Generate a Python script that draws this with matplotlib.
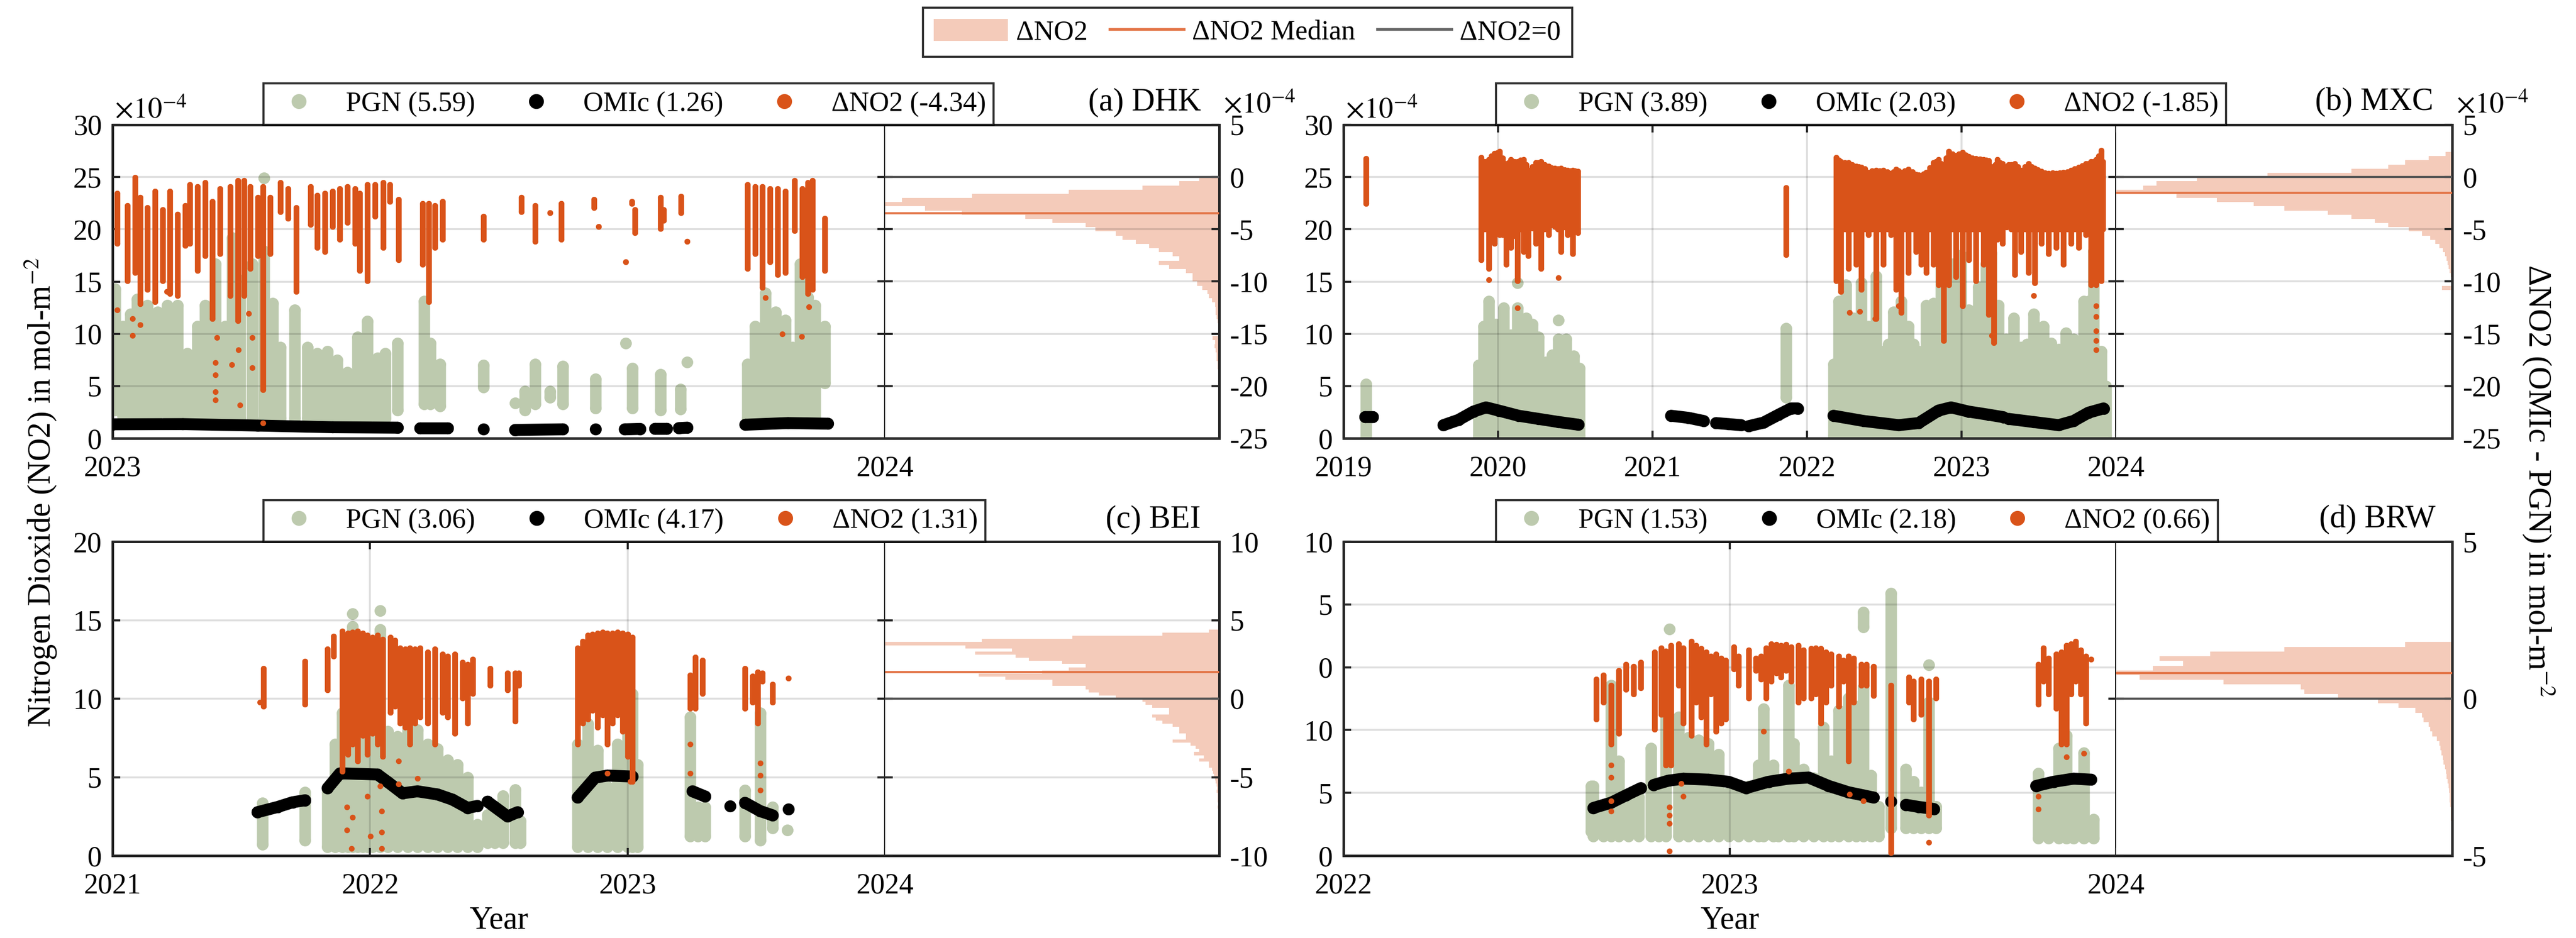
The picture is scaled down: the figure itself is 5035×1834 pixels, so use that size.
# -*- coding: utf-8 -*-
'''
PGN vs OMIc NO2 columns at four sites, with a histogram of the difference
'''
import numpy as np
import matplotlib
matplotlib.use('Agg')
import matplotlib.pyplot as plt
from matplotlib.lines import Line2D
from matplotlib.patches import Patch

plt.rcParams['font.family'] = ['Liberation Serif', 'DejaVu Serif']
plt.rcParams['mathtext.fontset'] = 'stix'
plt.rcParams['axes.unicode_minus'] = False

# ---------------------------------------------------------------- data
# time in decimal years, columns in 1e-4 mol m-2
# stripes: (time, low, high) -> a run of daily points at that time

# (a) DHK
DHK_MEANS = (5.59, 1.26, -4.34)
DHK_MEDIAN = -3.47
DHK_PGN = [
    (2023.003, 2.7, 14.3), (2023.013, 2.1, 10.7), (2023.023, 1.9, 11.9), (2023.032, 1.9, 13.3),
    (2023.045, 1.9, 12.7), (2023.058, 2.3, 12.1), (2023.071, 2.3, 12.7), (2023.084, 1.9, 12.7),
    (2023.097, 2.1, 8.1), (2023.110, 2.1, 10.7), (2023.120, 1.9, 12.7), (2023.133, 1.9, 16.7),
    (2023.146, 1.9, 10.7), (2023.155, 1.9, 19.2), (2023.165, 1.9, 15.1), (2023.181, 1.9, 16.7),
    (2023.196, 1.9, 17.9), (2023.196, 24.9, 24.9), (2023.207, 1.9, 12.9), (2023.217, 1.9, 8.7),
    (2023.236, 1.9, 12.3), (2023.252, 1.9, 8.7), (2023.265, 1.9, 8.1), (2023.278, 1.9, 8.3),
    (2023.291, 1.9, 7.5), (2023.304, 1.9, 6.3), (2023.317, 1.9, 9.7), (2023.330, 1.9, 11.2),
    (2023.343, 1.9, 7.7), (2023.353, 1.9, 8.1), (2023.369, 2.7, 9.1), (2023.403, 3.3, 13.1),
    (2023.411, 3.3, 9.1), (2023.424, 3.1, 7.1), (2023.480, 4.9, 7.0), (2023.521, 3.4, 3.4),
    (2023.534, 2.7, 4.5), (2023.547, 3.3, 7.1), (2023.566, 3.9, 4.5), (2023.583, 3.3, 6.9),
    (2023.625, 2.9, 5.7), (2023.664, 9.1, 9.1), (2023.673, 2.9, 6.7), (2023.709, 2.7, 6.1),
    (2023.735, 2.8, 4.7), (2023.744, 7.3, 7.3), (2023.822, 1.9, 7.1), (2023.832, 1.9, 10.7),
    (2023.845, 1.9, 13.9), (2023.858, 1.9, 12.1), (2023.871, 1.9, 11.3), (2023.880, 1.9, 8.7),
    (2023.890, 1.9, 16.7), (2023.900, 1.9, 13.5), (2023.909, 1.9, 12.7), (2023.922, 5.3, 10.7),
]
DHK_OMI = [
    [(2023.000, 1.34), (2023.091, 1.36), (2023.188, 1.22), (2023.285, 1.06), (2023.369, 1.02)],
    [(2023.398, 1.00), (2023.434, 1.00)],
    [(2023.480, 0.90)],
    [(2023.521, 0.80), (2023.583, 0.86)],
    [(2023.625, 0.86)],
    [(2023.663, 0.86), (2023.683, 0.90)],
    [(2023.702, 0.92), (2023.717, 0.92)],
    [(2023.733, 0.98), (2023.744, 1.02)],
    [(2023.819, 1.30), (2023.874, 1.46), (2023.926, 1.40)],
]
DHK_DNO2 = [
    (2023.006, -6.34, -1.54), (2023.019, -9.94, -2.74), (2023.029, -9.14, -0.04), (2023.036, -12.14, -1.94),
    (2023.045, -10.74, -2.94), (2023.055, -11.94, -1.34), (2023.065, -9.94, -3.14), (2023.074, -11.14, -1.34),
    (2023.084, -11.34, -3.54), (2023.094, -6.54, -2.74), (2023.100, -6.34, -0.74), (2023.110, -8.94, -0.94),
    (2023.120, -7.54, -0.54), (2023.129, -13.54, -2.34), (2023.139, -7.34, -1.14), (2023.152, -11.34, -0.94),
    (2023.162, -13.74, -0.34), (2023.170, -11.34, -0.34), (2023.178, -8.74, -0.94), (2023.188, -7.54, -1.94),
    (2023.195, -20.34, -0.94), (2023.204, -7.34, -1.94), (2023.217, -3.34, -0.54), (2023.227, -3.94, -1.14),
    (2023.238, -10.94, -2.94), (2023.256, -4.54, -0.94), (2023.265, -6.74, -1.74), (2023.275, -7.14, -1.54),
    (2023.285, -4.74, -1.34), (2023.294, -5.94, -1.14), (2023.304, -4.34, -0.94), (2023.314, -6.34, -1.14),
    (2023.320, -8.94, -1.54), (2023.330, -9.94, -0.74), (2023.340, -3.74, -0.74), (2023.350, -6.74, -0.54),
    (2023.359, -2.34, -0.74), (2023.370, -7.94, -2.14), (2023.401, -8.34, -2.54), (2023.409, -11.94, -2.54),
    (2023.417, -6.74, -2.74), (2023.427, -5.94, -2.34), (2023.480, -5.94, -3.74), (2023.529, -3.34, -1.94),
    (2023.547, -6.14, -2.74), (2023.566, -3.44, -3.44), (2023.581, -5.94, -2.54), (2023.623, -2.94, -2.14),
    (2023.629, -4.74, -4.74), (2023.664, -8.14, -8.14), (2023.672, -2.54, -2.34), (2023.676, -5.34, -3.14),
    (2023.709, -4.94, -1.94), (2023.713, -4.14, -3.14), (2023.736, -3.44, -1.84), (2023.744, -6.14, -6.14),
    (2023.822, -8.74, -0.74), (2023.832, -7.34, -0.94), (2023.841, -10.54, -0.94), (2023.851, -8.14, -1.14),
    (2023.861, -9.34, -1.14), (2023.871, -9.14, -1.34), (2023.883, -5.14, -0.34), (2023.893, -9.54, -1.14),
    (2023.900, -11.14, -0.54), (2023.906, -10.74, -0.34), (2023.922, -8.94, -3.94),
]
DHK_DNO2_PTS = [
    (2023.026, -13.54), (2023.026, -15.14), (2023.036, -14.14), (2023.006, -12.74), (2023.133, -17.74),
    (2023.133, -18.94), (2023.133, -20.54), (2023.133, -21.34), (2023.135, -15.34), (2023.165, -21.84),
    (2023.163, -16.54), (2023.181, -15.34), (2023.181, -18.24), (2023.195, -23.54), (2023.154, -17.94),
    (2023.176, -13.04), (2023.867, -15.04), (2023.892, -15.24), (2023.901, -12.44), (2023.845, -11.54),
    (2023.070, -10.94),
]
# histogram of dNO2: bins of width HIST_W going down from HIST_TOP (relative counts)
DHK_HIST_TOP, DHK_HIST_W = 0.0, 0.4
DHK_HIST = [0.06, 0.12, 0.23, 0.45, 0.74, 0.95, 1.0, 0.88, 0.77, 0.58, 0.50, 0.40, 0.37, 0.31,
            0.29, 0.25, 0.21, 0.18, 0.14, 0.12, 0.18, 0.15, 0.10, 0.08, 0.08, 0.066, 0.05, 0.035,
            0.03, 0.022, 0.013, 0.011, 0.010, 0.007, 0.004, 0.002, 0.001, 0.0, 0.02, 0.012, 0.014,
            0.010, 0.007, 0.008, 0.005, 0.004]

# (b) MXC
MXC_MEANS = (3.89, 2.03, -1.85)
MXC_MEDIAN = -1.5
MXC_PGN = [
    (2019.146, 0.1, 5.2), (2019.874, 0.2, 7.0), (2019.906, 0.2, 10.7), (2019.939, 0.2, 13.1),
    (2019.987, 0.2, 10.9), (2020.036, 0.2, 12.5), (2020.084, 0.2, 9.9), (2020.126, 0.2, 12.5),
    (2020.126, 14.9, 14.9), (2020.181, 0.2, 11.5), (2020.223, 0.2, 10.9), (2020.262, 0.2, 9.7),
    (2020.311, 0.2, 7.3), (2020.350, 0.2, 8.0), (2020.392, 0.2, 9.5), (2020.392, 11.3, 11.3),
    (2020.440, 0.2, 9.5), (2020.489, 0.2, 7.9), (2020.528, 0.2, 6.7), (2021.864, 3.9, 10.5),
    (2022.171, 0.2, 7.1), (2022.204, 0.2, 13.1), (2022.252, 0.2, 14.7), (2022.301, 0.2, 11.5),
    (2022.350, 0.2, 14.9), (2022.398, 0.2, 10.7), (2022.447, 0.2, 15.5), (2022.495, 0.2, 8.3),
    (2022.528, 0.2, 9.0), (2022.560, 0.2, 12.1), (2022.608, 0.2, 13.1), (2022.657, 0.2, 10.7),
    (2022.690, 0.2, 9.0), (2022.722, 0.2, 8.3), (2022.770, 0.2, 12.7), (2022.819, 0.2, 12.9),
    (2022.867, 0.2, 16.7), (2022.900, 0.2, 17.1), (2022.948, 0.2, 16.7), (2022.997, 0.2, 17.5),
    (2023.045, 0.2, 12.3), (2023.078, 0.2, 11.0), (2023.110, 0.2, 14.5), (2023.159, 0.2, 16.7),
    (2023.191, 0.2, 17.7), (2023.239, 0.2, 12.7), (2023.288, 0.2, 9.5), (2023.337, 0.2, 11.5),
    (2023.385, 0.2, 8.7), (2023.425, 0.2, 9.0), (2023.466, 0.2, 11.9), (2023.500, 0.2, 9.5),
    (2023.531, 0.2, 10.7), (2023.579, 0.2, 9.1), (2023.628, 0.2, 8.5), (2023.676, 0.2, 10.1),
    (2023.725, 0.2, 9.5), (2023.758, 0.2, 9.0), (2023.790, 0.2, 13.1), (2023.822, 0.2, 13.1),
    (2023.854, 0.2, 17.9), (2023.903, 0.2, 8.3), (2023.935, 0.2, 5.0),
]
MXC_OMI = [
    [(2019.140, 2.06), (2019.190, 2.06)],
    [(2019.647, 1.26), (2019.744, 1.76), (2019.841, 2.56), (2019.922, 2.96), (2020.003, 2.66),
     (2020.133, 2.16), (2020.262, 1.86), (2020.392, 1.56), (2020.521, 1.30)],
    [(2021.120, 2.16), (2021.233, 1.96), (2021.330, 1.66)],
    [(2021.411, 1.46), (2021.492, 1.36), (2021.573, 1.26)],
    [(2021.621, 1.16), (2021.718, 1.50), (2021.816, 2.26), (2021.896, 2.86), (2021.939, 2.86)],
    [(2022.171, 2.16), (2022.366, 1.66), (2022.592, 1.26), (2022.722, 1.46), (2022.851, 2.66),
     (2022.932, 2.96), (2023.045, 2.56), (2023.175, 2.26), (2023.272, 2.02)],
    [(2023.304, 1.86), (2023.466, 1.56), (2023.628, 1.26), (2023.725, 1.66), (2023.822, 2.46),
     (2023.919, 2.86)],
]
MXC_DNO2 = [
    (2019.146, -2.54, 1.76), (2019.890, -7.94, 1.86), (2019.914, -5.0, 1.5), (2019.939, -8.74, 1.66),
    (2019.958, -5.2, 2.0), (2019.977, -6.34, 2.26), (2019.993, -4.6, 2.3), (2020.010, -5.54, 2.46),
    (2020.031, -5.5, 1.8), (2020.052, -8.34, 1.26), (2020.068, -5.0, 1.4), (2020.084, -6.74, 1.66),
    (2020.105, -5.6, 1.5), (2020.126, -9.94, 1.46), (2020.145, -5.0, 1.6), (2020.165, -7.14, 1.66),
    (2020.181, -5.3, 1.2), (2020.197, -7.54, 0.66), (2020.222, -4.9, 1.0), (2020.246, -6.34, 1.36),
    (2020.262, -5.1, 1.4), (2020.278, -8.74, 1.46), (2020.302, -5.0, 1.2), (2020.327, -5.54, 1.06),
    (2020.346, -4.6, 0.9), (2020.366, -4.74, 0.86), (2020.387, -5.0, 0.8), (2020.408, -7.14, 0.86),
    (2020.429, -4.8, 0.7), (2020.450, -5.54, 0.66), (2020.466, -5.0, 0.6), (2020.482, -7.34, 0.66),
    (2020.498, -4.6, 0.6), (2020.515, -5.34, 0.56), (2021.864, -7.44, -1.04),
    (2022.188, -9.94, 1.86), (2022.204, -5.0, 1.6), (2022.220, -10.94, 1.46), (2022.244, -5.0, 1.4),
    (2022.269, -8.74, 1.36), (2022.293, -5.0, 1.2), (2022.317, -8.34, 1.06), (2022.333, -5.0, 1.0),
    (2022.350, -10.74, 0.96), (2022.374, -5.0, 0.8), (2022.398, -5.54, 0.46), (2022.422, -5.0, 0.6),
    (2022.447, -13.54, 0.66), (2022.471, -5.0, 0.6), (2022.495, -8.34, 0.66), (2022.519, -5.0, 0.5),
    (2022.544, -5.54, 0.36), (2022.560, -5.0, 0.5), (2022.576, -10.74, 0.76), (2022.592, -5.0, 0.6),
    (2022.608, -12.94, 0.46), (2022.632, -5.0, 0.6), (2022.657, -9.14, 0.76), (2022.681, -5.0, 0.5),
    (2022.706, -7.14, 0.26), (2022.722, -5.0, 0.2), (2022.738, -8.34, 0.16), (2022.754, -5.0, 0.3),
    (2022.770, -9.14, 0.46), (2022.795, -5.0, 0.9), (2022.819, -8.34, 1.36), (2022.835, -5.0, 1.5),
    (2022.851, -10.34, 1.66), (2022.867, -5.0, 1.3), (2022.883, -15.64, 1.06), (2022.900, -5.0, 1.8),
    (2022.916, -10.34, 2.46), (2022.940, -5.0, 2.2), (2022.964, -9.54, 2.06), (2022.985, -5.0, 2.2),
    (2023.006, -12.34, 2.36), (2023.025, -5.0, 2.1), (2023.045, -7.94, 1.96), (2023.070, -5.0, 1.8),
    (2023.094, -9.94, 1.76), (2023.118, -5.0, 1.7), (2023.142, -8.34, 1.66), (2023.158, -5.0, 1.6),
    (2023.175, -13.14, 1.56), (2023.191, -5.0, 1.0), (2023.207, -15.84, 0.46), (2023.220, -5.0, 1.2),
    (2023.233, -5.94, 1.66), (2023.249, -5.0, 1.4), (2023.265, -6.34, 1.26), (2023.290, -4.8, 1.0),
    (2023.304, -4.5, 1.2), (2023.320, -5.0, 1.2), (2023.343, -9.34, 1.26), (2023.364, -5.0, 1.0),
    (2023.385, -7.14, 0.66), (2023.410, -5.0, 1.0), (2023.434, -9.14, 1.26), (2023.453, -5.0, 1.0),
    (2023.472, -10.14, 0.86), (2023.494, -5.0, 0.7), (2023.515, -6.34, 0.56), (2023.539, -5.0, 0.4),
    (2023.563, -7.34, 0.36), (2023.588, -5.0, 0.4), (2023.612, -6.74, 0.36), (2023.636, -5.0, 0.4),
    (2023.660, -8.34, 0.46), (2023.685, -5.0, 0.5), (2023.709, -6.34, 0.66), (2023.733, -5.0, 0.8),
    (2023.757, -6.74, 0.96), (2023.782, -5.0, 1.1), (2023.806, -5.54, 1.26), (2023.822, -5.0, 1.3),
    (2023.838, -10.34, 1.46), (2023.855, -5.0, 1.5), (2023.871, -10.34, 1.66), (2023.887, -5.0, 2.0),
    (2023.903, -9.94, 2.46), (2023.915, -5.0, 1.5),
]
MXC_DNO2_PTS = [
    (2023.871, -12.34), (2023.871, -13.34), (2023.871, -14.74), (2023.871, -15.64), (2023.871, -16.54),
    (2022.440, -13.54), (2022.275, -12.94), (2022.340, -12.84), (2023.466, -11.34), (2022.220, -10.94),
    (2020.126, -12.54), (2020.392, -9.64), (2019.939, -9.84), (2022.592, -12.34), (2023.197, -15.14),
    (2022.883, -14.74), (2023.903, 2.56),
]
MXC_HIST_TOP, MXC_HIST_W = 2.4, 0.4
MXC_HIST = [0.02, 0.07, 0.14, 0.19, 0.30, 0.55, 0.76, 0.88, 0.92, 1.0, 0.82, 0.70, 0.59, 0.50,
            0.37, 0.30, 0.23, 0.19, 0.13, 0.09, 0.065, 0.05, 0.038, 0.028, 0.021, 0.017, 0.014,
            0.011, 0.008, 0.005, 0.002, 0.0, 0.03]

# (c) BEI
BEI_MEANS = (3.06, 4.17, 1.31)
BEI_MEDIAN = 1.7
BEI_PGN = [
    (2021.583, 0.71, 3.37), (2021.748, 0.97, 4.04), (2021.835, 0.57, 4.04), (2021.864, 0.57, 7.1),
    (2021.893, 0.57, 9.1), (2021.913, 0.57, 11.1), (2021.932, 0.57, 14.6), (2021.932, 15.4, 15.4),
    (2021.951, 0.57, 9.1), (2021.971, 0.57, 11.1), (2021.990, 0.57, 10.0), (2022.010, 0.57, 8.4),
    (2022.039, 0.57, 14.4), (2022.039, 15.6, 15.6), (2022.068, 0.57, 7.9), (2022.107, 0.57, 7.6),
    (2022.146, 0.57, 8.8), (2022.184, 0.57, 8.0), (2022.223, 0.57, 7.1), (2022.262, 0.57, 6.8),
    (2022.301, 0.57, 6.1), (2022.340, 0.57, 5.8), (2022.379, 0.57, 5.0), (2022.417, 0.57, 2.0),
    (2022.456, 0.8, 2.6), (2022.485, 0.8, 3.1), (2022.515, 0.8, 3.8), (2022.563, 0.8, 4.2),
    (2022.583, 0.8, 2.2), (2022.806, 0.57, 7.1), (2022.845, 0.57, 8.4), (2022.883, 0.57, 6.7),
    (2022.922, 0.57, 4.4), (2022.961, 0.57, 7.1), (2023.000, 0.57, 10.0), (2023.019, 0.57, 10.3),
    (2023.039, 0.57, 5.8), (2023.243, 1.24, 8.84), (2023.272, 1.24, 3.1), (2023.301, 1.24, 3.1),
    (2023.456, 1.24, 4.17), (2023.515, 0.97, 9.1), (2023.563, 1.77, 3.1), (2023.621, 1.64, 1.64),
]
BEI_OMI = [
    [(2021.563, 2.77), (2021.641, 3.10), (2021.699, 3.40), (2021.748, 3.53)],
    [(2021.835, 4.30), (2021.883, 5.24), (2021.893, 5.24), (2022.029, 5.17), (2022.068, 4.70),
     (2022.126, 3.97), (2022.184, 4.10), (2022.262, 3.90), (2022.320, 3.57), (2022.379, 3.04),
     (2022.417, 3.17)],
    [(2022.456, 3.44), (2022.534, 2.50), (2022.573, 2.77)],
    [(2022.806, 3.70), (2022.874, 4.97), (2022.922, 5.10), (2023.019, 5.04)],
    [(2023.252, 4.10), (2023.301, 3.77)],
    [(2023.398, 3.17)],
    [(2023.456, 3.37), (2023.515, 2.84), (2023.563, 2.57)],
    [(2023.625, 2.97)],
]
BEI_DNO2 = [
    (2021.586, -0.49, 1.91), (2021.748, -0.36, 2.37), (2021.835, 0.57, 3.17), (2021.858, 2.71, 3.97),
    (2021.893, -4.63, 4.31), (2021.913, -3.56, 4.17), (2021.932, -2.89, 4.24), (2021.951, -3.96, 4.31),
    (2021.971, -2.36, 4.17), (2021.990, -3.56, 4.04), (2022.010, -2.23, 3.91), (2022.029, -2.89, 4.04),
    (2022.049, -3.69, 3.77), (2022.078, -0.89, 3.91), (2022.097, -0.49, 3.71), (2022.117, -1.56, 3.24),
    (2022.136, -1.83, 3.17), (2022.155, -2.89, 3.24), (2022.175, -1.56, 3.17), (2022.194, -1.16, 3.24),
    (2022.223, -1.56, 2.97), (2022.252, -2.89, 3.17), (2022.282, -0.89, 2.84), (2022.301, -1.16, 2.71),
    (2022.330, -2.23, 2.84), (2022.359, 0.04, 2.31), (2022.379, -1.56, 2.17), (2022.398, 0.31, 2.51),
    (2022.466, 0.84, 1.91), (2022.534, 0.57, 1.64), (2022.563, -1.43, 1.64), (2022.577, 0.84, 1.64),
    (2022.806, -2.89, 3.24), (2022.825, -1.56, 3.64), (2022.845, -1.29, 4.04), (2022.864, -0.76, 4.11),
    (2022.883, -1.83, 4.17), (2022.903, -1.03, 4.24), (2022.922, -2.89, 4.17), (2022.942, -1.56, 4.17),
    (2022.961, -1.03, 4.24), (2022.981, -2.09, 4.17), (2023.000, -3.69, 4.11), (2023.019, -5.29, 3.91),
    (2023.243, -0.63, 1.51), (2023.262, -0.63, 2.64), (2023.291, 0.31, 2.44), (2023.456, -0.63, 1.91),
    (2023.485, -0.23, 1.44), (2023.505, -1.56, 1.71), (2023.524, 1.11, 1.64), (2023.563, -0.23, 0.91),
    (2023.625, 1.31, 1.31),
]
BEI_DNO2_PTS = [
    (2021.573, -0.23), (2021.990, -6.23), (2022.045, -7.16), (2022.045, -8.49), (2022.045, -9.56),
    (2021.928, -9.56), (2021.909, -8.36), (2021.932, -7.56), (2022.002, -8.76), (2023.243, -2.89),
    (2023.243, -4.76), (2023.515, -4.09), (2023.515, -4.89), (2023.515, -5.83), (2022.922, -4.76),
    (2023.010, -5.29), (2022.184, -5.09), (2022.111, -5.43), (2022.111, -3.96), (2021.909, -6.89),
    (2022.039, -5.56),
]
BEI_HIST_TOP, BEI_HIST_W = 4.4, 0.2
BEI_HIST = [0.03, 0.17, 0.44, 0.71, 1.0, 0.76, 0.62, 0.73, 0.61, 0.57, 0.47, 0.40, 0.45, 0.53,
            0.72, 0.64, 0.50, 0.50, 0.40, 0.39, 0.36, 0.31, 0.23, 0.22, 0.20, 0.15, 0.15, 0.20,
            0.19, 0.17, 0.14, 0.12, 0.12, 0.10, 0.10, 0.14, 0.086, 0.07, 0.06, 0.075, 0.046, 0.06,
            0.03, 0.03, 0.022, 0.018, 0.015, 0.012, 0.010, 0.008, 0.006, 0.007, 0.005, 0.004,
            0.005, 0.003, 0.004, 0.003, 0.002, 0.003, 0.002, 0.003, 0.002, 0.002, 0.001, 0.002,
            0.001, 0.002, 0.001]

# (d) BRW  (left axis drawn on a 0-25 scale, labels as printed)
BRW_MEANS = (1.53, 2.18, 0.66)
BRW_MEDIAN = 0.82
BRW_YLABELS = ['0', '5', '10', '0', '5', '10']
BRW_PGN = [
    (2022.641, 1.9, 5.55), (2022.647, 1.55, 5.55), (2022.673, 1.55, 4.05), (2022.693, 1.55, 13.55),
    (2022.712, 1.55, 7.55), (2022.738, 1.55, 4.7), (2022.764, 1.55, 4.7), (2022.796, 1.55, 8.55),
    (2022.816, 1.55, 5.55), (2022.835, 1.55, 15.55), (2022.844, 18.05, 18.05), (2022.867, 1.55, 11.05),
    (2022.893, 1.55, 9.4), (2022.919, 1.55, 9.2), (2022.945, 1.55, 8.9), (2022.971, 1.55, 8.05),
    (2022.997, 1.55, 5.05), (2023.023, 1.55, 5.05), (2023.049, 1.55, 5.55), (2023.074, 1.55, 7.2),
    (2023.087, 1.55, 11.7), (2023.113, 1.55, 7.2), (2023.126, 1.55, 5.55), (2023.152, 1.55, 13.55),
    (2023.165, 1.55, 8.9), (2023.191, 1.55, 6.9), (2023.217, 1.55, 6.2), (2023.243, 1.55, 10.2),
    (2023.262, 1.55, 7.55), (2023.282, 1.55, 11.55), (2023.307, 1.55, 12.55), (2023.327, 1.55, 11.9),
    (2023.346, 1.55, 13.4), (2023.346, 18.2, 19.4), (2023.366, 1.55, 6.4), (2023.385, 1.55, 3.9),
    (2023.417, 2.2, 20.9), (2023.456, 2.2, 6.9), (2023.476, 2.2, 5.9), (2023.495, 2.2, 5.05),
    (2023.515, 2.2, 12.2), (2023.515, 15.2, 15.2), (2023.534, 2.2, 3.9), (2023.799, 1.4, 6.55),
    (2023.825, 1.4, 5.55), (2023.851, 1.4, 8.55), (2023.871, 1.4, 9.55), (2023.890, 1.4, 5.9),
    (2023.916, 1.4, 8.2), (2023.942, 1.4, 2.9),
]
BRW_OMI = [
    [(2022.647, 3.80), (2022.693, 4.22), (2022.731, 4.80), (2022.770, 5.38)],
    [(2022.803, 5.63), (2022.841, 5.97), (2022.880, 6.13), (2022.945, 6.05), (2022.997, 5.88),
     (2023.042, 5.38), (2023.100, 5.88), (2023.152, 6.13), (2023.204, 6.22), (2023.256, 5.55),
     (2023.307, 5.05), (2023.346, 4.80), (2023.372, 4.63)],
    [(2023.417, 4.30)],
    [(2023.456, 4.05), (2023.489, 3.88), (2023.528, 3.72)],
    [(2023.793, 5.55), (2023.838, 5.88), (2023.890, 6.13), (2023.935, 6.05)],
]
BRW_DNO2 = [
    (2022.654, -0.65, 0.62), (2022.673, -0.11, 0.75), (2022.693, -1.45, 0.42), (2022.712, -1.11, 0.89),
    (2022.731, 0.29, 1.09), (2022.751, 0.15, 1.02), (2022.770, 0.35, 1.15), (2022.805, -0.98, 1.49),
    (2022.822, -0.51, 1.62), (2022.835, -2.11, 1.52), (2022.848, -2.11, 1.69), (2022.867, 0.42, 1.75),
    (2022.880, -0.78, 1.62), (2022.900, -1.18, 1.82), (2022.913, -0.11, 1.69), (2022.926, -0.58, 1.59),
    (2022.939, -1.45, 1.49), (2022.951, 0.15, 1.35), (2022.964, -1.05, 1.42), (2022.977, -0.78, 1.29),
    (2022.990, -0.65, 1.22), (2023.010, 0.95, 1.65), (2023.023, 0.42, 1.35), (2023.049, 0.02, 1.55),
    (2023.068, 0.89, 1.29), (2023.081, 0.62, 1.35), (2023.094, 0.02, 1.62), (2023.107, 0.55, 1.75),
    (2023.120, 0.82, 1.72), (2023.133, 0.69, 1.69), (2023.146, 0.89, 1.72), (2023.159, 0.55, 1.65),
    (2023.178, -0.11, 1.69), (2023.191, 0.02, 1.55), (2023.210, 0.02, 1.59), (2023.223, 0.15, 1.62),
    (2023.236, -0.78, 1.59), (2023.249, -0.11, 1.49), (2023.262, 0.42, 1.42), (2023.282, -0.25, 1.35),
    (2023.294, 0.55, 1.22), (2023.307, -1.98, 1.35), (2023.320, -0.11, 1.29), (2023.340, 0.42, 1.09),
    (2023.353, 0.42, 1.09), (2023.372, 0.09, 1.02), (2023.417, -4.91, 0.42), (2023.463, -0.11, 0.69),
    (2023.476, -0.65, 0.55), (2023.495, -0.51, 0.62), (2023.515, -3.71, 0.55), (2023.534, 0.02, 0.62),
    (2023.799, -0.18, 1.09), (2023.812, 0.55, 1.62), (2023.825, 0.15, 1.29), (2023.845, -0.31, 1.42),
    (2023.858, -1.45, 1.49), (2023.871, -1.45, 1.69), (2023.883, 0.15, 1.75), (2023.896, 0.55, 1.82),
    (2023.909, 0.15, 1.55), (2023.922, -0.78, 1.35), (2023.935, 1.25, 1.25),
]
BRW_DNO2_PTS = [
    (2022.693, -2.11), (2022.693, -2.51), (2022.693, -3.25), (2022.693, -3.58), (2022.844, -3.45),
    (2022.844, -3.71), (2022.844, -3.98), (2022.844, -4.85), (2022.874, -2.71), (2022.880, -3.11),
    (2023.515, -4.58), (2023.799, -3.11), (2023.799, -3.51), (2023.916, -1.75), (2023.871, -1.85),
    (2023.310, -3.05), (2023.346, -3.25), (2023.152, -2.31), (2023.087, -1.05),
]
BRW_HIST_TOP, BRW_HIST_W = 1.8, 0.15
BRW_HIST = [0.14, 0.50, 0.72, 0.87, 0.80, 0.89, 1.0, 0.93, 0.68, 0.45, 0.44, 0.34, 0.22, 0.16,
            0.11, 0.09, 0.085, 0.07, 0.066, 0.06, 0.045, 0.038, 0.035, 0.032, 0.028, 0.026, 0.022,
            0.019, 0.016, 0.013, 0.011, 0.009, 0.008, 0.007, 0.006, 0.005, 0.004, 0.004, 0.003,
            0.003, 0.002, 0.003, 0.002]

# ---------------------------------------------------------------- style
W, H = 5035, 1834
FS_TICK = 13.5
FS_LEG = 13
FS_LAB = 15

C_PGN = '#BDCAAE'
C_OMI = 'black'
C_DNO2 = '#D95319'
C_HIST = '#F4CBBA'
C_MED = '#E37446'
C_ZERO = '#555555'
C_AX = '#262626'

MS_PGN = 5.4
MS_OMI = 5.6
MS_DNO2 = 2.7


def rect(x0, y0, x1, y1):
    # pixel box (top-left origin) -> figure fraction
    return [x0 / W, 1 - y1 / H, (x1 - x0) / W, (y1 - y0) / H]


def stripes(ax, data, color, w, z):
    t, lo, hi = np.array(data, dtype=float).T
    ax.vlines(t, lo, hi, colors=color, lw=w, capstyle='round', zorder=z)
    ax.plot(t, lo, 'o', color=color, ms=w, mew=0, zorder=z)
    ax.plot(t, hi, 'o', color=color, ms=w, mew=0, zorder=z)


def draw_panel(fig, px, years, ylim_l, ylim_r, ylabels_l,
               pgn, omi, dno2, dno2_pts, hist, hist_top, hist_w, med, means,
               title, title_px, leg_px, sci):
    x0, x1, x2, yt, yb = px
    ax = fig.add_axes(rect(x0, yt, x1, yb))
    axr = ax.twinx()
    axh = fig.add_axes(rect(x1, yt, x2, yb))

    # --- time series, left scale
    stripes(ax, pgn, C_PGN, MS_PGN, 2)
    for seg in omi:
        s = np.array(seg, dtype=float)
        ax.plot(s[:, 0], s[:, 1], color=C_OMI, lw=MS_OMI, marker='o', ms=MS_OMI, mew=0,
                solid_capstyle='round', solid_joinstyle='round', zorder=3)
    ax.set_xlim(years[0], years[-1])
    ax.set_xticks(years)
    ax.set_xticklabels([str(y) for y in years])
    yt_l = np.arange(ylim_l[0], ylim_l[1] + 1, 5)
    ax.set_ylim(ylim_l)
    ax.set_yticks(yt_l)
    ax.set_yticklabels(ylabels_l if ylabels_l else [str(int(v)) for v in yt_l])
    ax.grid(True, color='k', alpha=0.13, lw=0.9)
    ax.set_axisbelow(False)
    ax.tick_params(direction='in', length=3.5, width=1.0, color=C_AX, labelsize=FS_TICK,
                   top=True, bottom=True, left=True, right=False)
    ax.tick_params(axis='x', pad=8)
    ax.tick_params(axis='y', pad=5)
    for s in ['left', 'top', 'bottom']:
        ax.spines[s].set_linewidth(1.2)
        ax.spines[s].set_color(C_AX)
    ax.spines['right'].set_linewidth(0.9)

    # --- dNO2 on the right scale
    stripes(axr, dno2, C_DNO2, MS_DNO2, 4)
    p = np.array(dno2_pts, dtype=float)
    axr.plot(p[:, 0], p[:, 1], 'o', color=C_DNO2, ms=MS_DNO2, mew=0, zorder=4)
    yt_r = np.arange(ylim_r[0], ylim_r[1] + 1, 5)
    axr.set_ylim(ylim_r)
    axr.set_yticks(yt_r)
    axr.tick_params(axis='y', direction='in', length=3.5, width=1.0, color=C_AX,
                    labelright=False, right=True)
    for s in axr.spines.values():
        s.set_visible(False)

    # --- histogram panel
    n = len(hist)
    centers = hist_top - hist_w * (np.arange(n) + 0.5)
    axh.barh(centers, hist, height=hist_w, color=C_HIST, lw=0, zorder=1)
    axh.axhline(0, color=C_ZERO, lw=1.0, zorder=3)
    axh.axhline(med, color=C_MED, lw=1.0, zorder=3)
    axh.set_xlim(1.0, 0)
    axh.set_xticks([])
    axh.set_ylim(ylim_r)
    axh.set_yticks(yt_r)
    axh.set_yticklabels([str(int(v)) for v in yt_r])
    axh.yaxis.tick_right()
    axh.tick_params(axis='y', direction='in', length=3.5, width=1.0, color=C_AX, left=True,
                    right=True, labelleft=False, labelright=True, labelsize=FS_TICK, pad=5)
    axh.grid(True, axis='y', color='k', alpha=0.13, lw=0.9)
    axh.set_axisbelow(False)
    axh.spines['left'].set_visible(False)
    for s in ['right', 'top', 'bottom']:
        axh.spines[s].set_linewidth(1.2)
        axh.spines[s].set_color(C_AX)

    # --- legend box sitting on the top edge
    lx0, lx1, lyb = leg_px
    hnd = [Line2D([], [], ls='', marker='o', ms=7, mew=0, color=c) for c in (C_PGN, C_OMI, C_DNO2)]
    lab = ['PGN (%.2f)' % means[0], 'OMIc (%.2f)' % means[1], 'ΔNO2 (%.2f)' % means[2]]
    leg = fig.legend(hnd, lab, loc='lower left', mode='expand', ncol=3,
                     bbox_to_anchor=(lx0 / W, 1 - lyb / H, (lx1 - lx0) / W, 0.04),
                     fontsize=FS_LEG, frameon=True, fancybox=False, edgecolor='k',
                     borderpad=0.28, handlelength=2.0, handletextpad=0.7, borderaxespad=0)
    leg.get_frame().set_linewidth(1.0)

    fig.text(title_px[0] / W, 1 - title_px[1] / H, title, ha='right', va='center', fontsize=15)
    if sci:
        fig.text((x0 + 4) / W, 1 - (yt - 13) / H, r'$\times10^{-4}$', ha='left', va='baseline',
                 fontsize=FS_TICK)
        fig.text((x2 + 8) / W, 1 - (yt - 23) / H, r'$\times10^{-4}$', ha='left', va='baseline',
                 fontsize=FS_TICK)


fig = plt.figure(figsize=(W / 300, H / 300), dpi=300)

draw_panel(fig, (220, 1730, 2383, 244, 857), [2023, 2024], (0, 30), (-25, 5), None,
           DHK_PGN, DHK_OMI, DHK_DNO2, DHK_DNO2_PTS, DHK_HIST, DHK_HIST_TOP, DHK_HIST_W,
           DHK_MEDIAN, DHK_MEANS, '(a) DHK', (2347, 200), (515, 1942, 244), True)
draw_panel(fig, (2626, 4136, 4793, 244, 857), [2019, 2020, 2021, 2022, 2023, 2024], (0, 30), (-25, 5), None,
           MXC_PGN, MXC_OMI, MXC_DNO2, MXC_DNO2_PTS, MXC_HIST, MXC_HIST_TOP, MXC_HIST_W,
           MXC_MEDIAN, MXC_MEANS, '(b) MXC', (4756, 200), (2924, 4351, 244), True)
draw_panel(fig, (220, 1730, 2383, 1059, 1673), [2021, 2022, 2023, 2024], (0, 20), (-10, 10), None,
           BEI_PGN, BEI_OMI, BEI_DNO2, BEI_DNO2_PTS, BEI_HIST, BEI_HIST_TOP, BEI_HIST_W,
           BEI_MEDIAN, BEI_MEANS, '(c) BEI', (2347, 1016), (515, 1926, 1059), False)
draw_panel(fig, (2626, 4136, 4793, 1059, 1673), [2022, 2023, 2024], (0, 25), (-5, 5), BRW_YLABELS,
           BRW_PGN, BRW_OMI, BRW_DNO2, BRW_DNO2_PTS, BRW_HIST, BRW_HIST_TOP, BRW_HIST_W,
           BRW_MEDIAN, BRW_MEANS, '(d) BRW', (4760, 1016), (2924, 4335, 1059), False)

# shared legend for the histogram panels
top_h = [Patch(facecolor=C_HIST, edgecolor='none'),
         Line2D([], [], color=C_MED, lw=1.3),
         Line2D([], [], color='#666666', lw=1.3)]
tl = fig.legend(top_h, ['ΔNO2', 'ΔNO2 Median', 'ΔNO2=0'], loc='upper center',
                bbox_to_anchor=(2438 / W, 1 - 15 / H), ncol=3, fontsize=FS_LEG, frameon=True,
                fancybox=False, edgecolor='k', handlelength=2.67, handleheight=0.85,
                handletextpad=0.3, columnspacing=0.8, borderpad=0.4, borderaxespad=0)
tl.get_frame().set_linewidth(1.0)

# axis titles
fig.text(80 / W, 1 - 963 / H, 'Nitrogen Dioxide (NO2) in mol-m$^{-2}$', rotation=90,
         ha='center', va='center', fontsize=FS_LAB)
fig.text(4962 / W, 1 - 940 / H, 'ΔNO2 (OMIc - PGN) in mol-m$^{-2}$', rotation=-90,
         ha='center', va='center', fontsize=FS_LAB)
fig.text(975 / W, 1 - 1801 / H, 'Year', ha='center', va='center', fontsize=FS_LAB)
fig.text(3381 / W, 1 - 1801 / H, 'Year', ha='center', va='center', fontsize=FS_LAB)

fig.savefig('out.png', dpi=300)
plt.close()
